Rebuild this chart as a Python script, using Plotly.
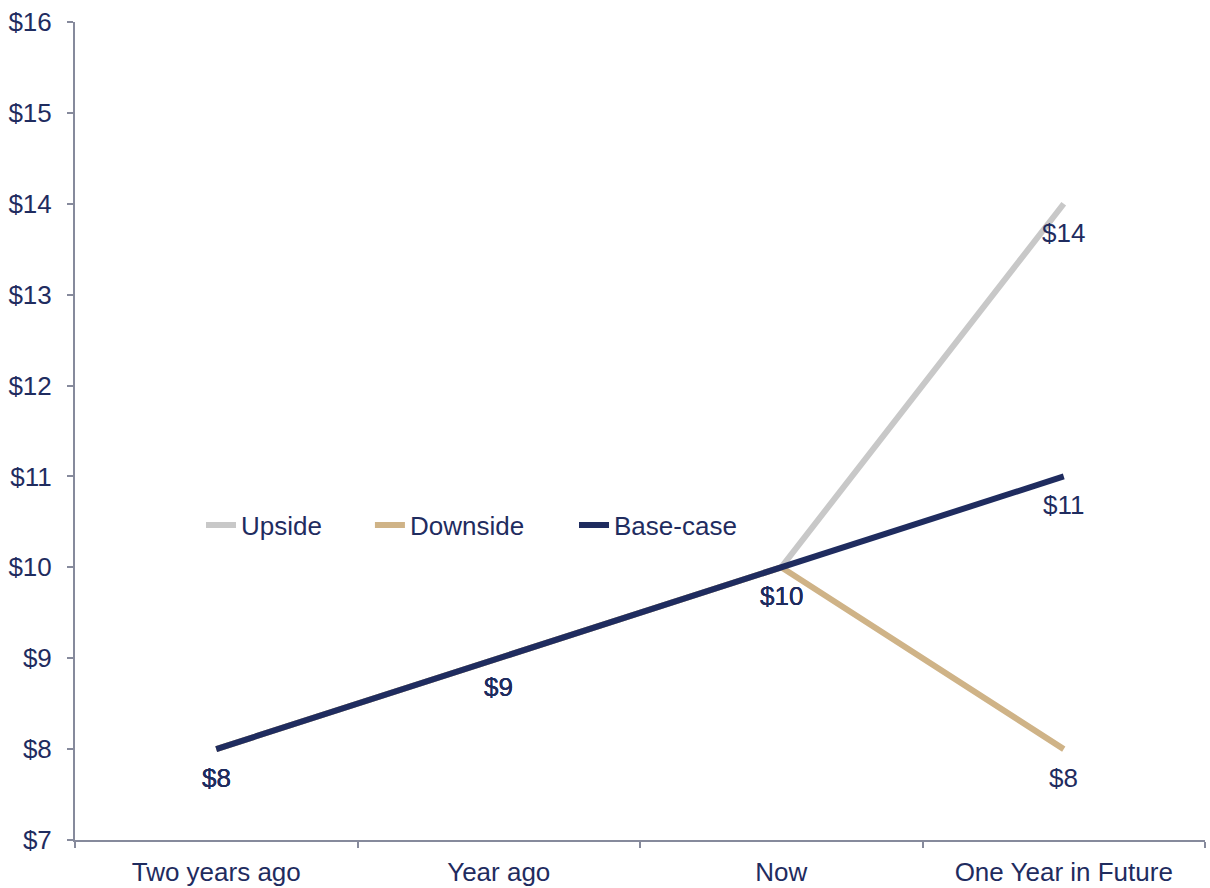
import plotly.graph_objects as go

categories = ["Two years ago", "Year ago", "Now", "One Year in Future"]
upside = [8, 9, 10, 14]
downside = [8, 9, 10, 8]
base_case = [8, 9, 10, 11]

series = [
    ("Upside", upside, "#C8C8C8", "legend", 0.1115),
    ("Downside", downside, "#CFB387", "legend2", 0.261),
    ("Base-case", base_case, "#1F2C5F", "legend3", 0.4416),
]

text_color = "#1F2C5F"
axis_color = "#868A9C"
font_family = "Liberation Sans, Arial, sans-serif"
fsize = 26

fig = go.Figure()
annotations = []
legends = {}
for name, vals, color, leg, lx in series:
    fig.add_trace(go.Scatter(
        x=categories, y=vals, name=name, mode="lines", legend=leg,
        line=dict(color=color, width=6),
    ))
    legends[leg] = dict(
        orientation="h", x=lx, y=0.385, xanchor="left", yanchor="middle",
        bgcolor="rgba(0,0,0,0)", font=dict(size=fsize, color=text_color, family=font_family),
    )
    for c, v in zip(categories, vals):
        annotations.append(dict(
            x=c, y=v, xref="x", yref="y", text=f"${v}", showarrow=False,
            yshift=-29, font=dict(size=fsize, color=text_color, family=font_family),
        ))

fig.update_layout(
    width=1210, height=888,
    margin=dict(l=75, r=5, t=22, b=48),
    paper_bgcolor="white", plot_bgcolor="white",
    font=dict(family=font_family, size=fsize, color=text_color),
    showlegend=True,
    annotations=annotations,
    **legends,
)
fig.update_xaxes(
    type="category", range=[-0.5, 3.5], showline=True, linecolor=axis_color,
    linewidth=2, ticks="outside", tickson="boundaries", ticklen=6,
    tickcolor=axis_color, tickwidth=2, showgrid=False, zeroline=False,
    tickfont=dict(size=fsize, color=text_color), ticklabelstandoff=8,
    automargin=False,
)
fig.update_yaxes(
    range=[7, 16], dtick=1, tick0=7, tickprefix="$", showline=True,
    linecolor=axis_color, linewidth=2, ticks="outside", ticklen=6,
    tickcolor=axis_color, tickwidth=2, showgrid=False, zeroline=False,
    tickfont=dict(size=fsize, color=text_color), ticklabelstandoff=10,
    automargin=False,
)

fig.write_html("out.html")
